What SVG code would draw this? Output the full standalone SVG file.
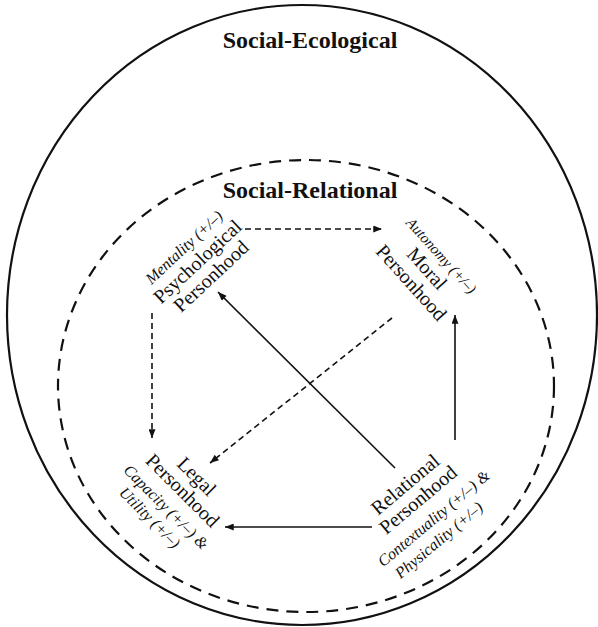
<svg xmlns="http://www.w3.org/2000/svg" width="598" height="627" viewBox="0 0 598 627">
<defs>
<marker id="ah" viewBox="0 0 10 8" refX="10" refY="4" markerWidth="10" markerHeight="7" markerUnits="userSpaceOnUse" orient="auto">
<path d="M0,0 L10,4 L0,8 Z" fill="#111"/>
</marker>
<style>
.t{font-family:"Liberation Serif","Times New Roman",serif;fill:#111;text-anchor:middle}
.h{font-size:24px;font-weight:bold}
.n{font-size:20px}
.i{font-size:16px;font-style:italic}
.solid{stroke:#111;stroke-width:1.6;fill:none}
.dash{stroke:#111;stroke-width:1.6;fill:none;stroke-dasharray:6 4}
</style>
</defs>
<rect width="598" height="627" fill="#fff"/>
<g id="social-ecological">
<ellipse cx="302" cy="315" rx="295" ry="310" fill="none" stroke="#111" stroke-width="2.2"/>
<text class="t h" x="310" y="48">Social-Ecological</text>
</g>
<g id="social-relational">
<ellipse cx="306" cy="386" rx="248" ry="226" fill="none" stroke="#111" stroke-width="2.2" stroke-dasharray="12 8"/>
<text class="t h" x="310" y="198">Social-Relational</text>
</g>
<g id="psychological" transform="translate(202,266.5) rotate(-43)">
<text class="t i" x="0" y="-21">Mentality (+/–)</text>
<text class="t n" x="0" y="0">Psychological</text>
<text class="t n" x="0" y="20">Personhood</text>
</g>
<g id="moral" transform="translate(422,273) rotate(48)">
<text class="t i" x="0" y="-21" style="font-size:15px">Autonomy (+/–)</text>
<text class="t n" x="0" y="0">Moral</text>
<text class="t n" x="0" y="21">Personhood</text>
</g>
<g id="legal" transform="translate(192,481) rotate(45)">
<text class="t n" x="0" y="0">Legal</text>
<text class="t n" x="0" y="20">Personhood</text>
<text class="t i" x="0" y="42">Capacity (+/–) &amp;</text>
<text class="t i" x="-4" y="61">Utility (+/–)</text>
</g>
<g id="relational" transform="translate(409.5,489.5) rotate(-40)">
<text class="t n" x="0" y="0">Relational</text>
<text class="t n" x="0" y="20">Personhood</text>
<text class="t i" x="0" y="43">Contextuality (+/–) &amp;</text>
<text class="t i" x="-10" y="63">Physicality (+/–)</text>
</g>
<g id="connectors">
<line class="dash" x1="245" y1="229" x2="382" y2="229" marker-end="url(#ah)"/>
<line class="dash" x1="152" y1="313" x2="152" y2="438" marker-end="url(#ah)"/>
<line class="dash" x1="392" y1="318" x2="210" y2="463" marker-end="url(#ah)"/>
<line class="solid" x1="455" y1="440" x2="455" y2="315" marker-end="url(#ah)"/>
<line class="solid" x1="395" y1="468" x2="218" y2="292" marker-end="url(#ah)"/>
<line class="solid" x1="372" y1="527" x2="225" y2="527" marker-end="url(#ah)"/>
</g>
</svg>
